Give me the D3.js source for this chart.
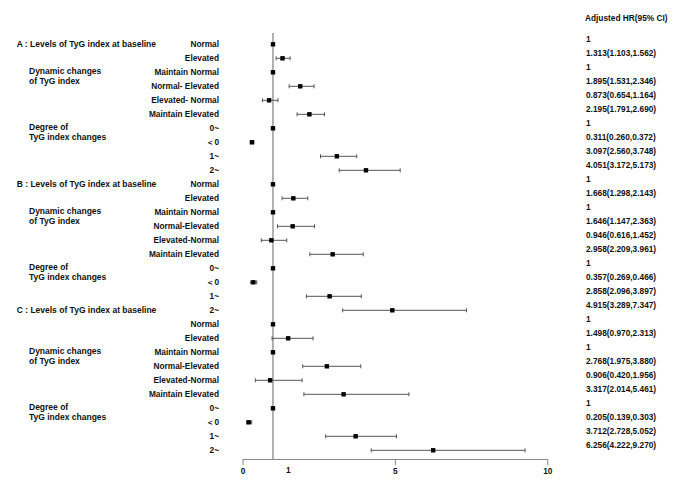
<!DOCTYPE html>
<html>
<head>
<meta charset="utf-8">
<script src="https://cdn.jsdelivr.net/npm/d3@7"></script>
<style>
  body { margin: 0; background: #fff; }
  text { font-family: "Liberation Sans", Arial, sans-serif; font-weight: bold; fill: #111; }
</style>
</head>
<body>
<svg id="forest" width="685" height="489"></svg>
<script>
// panel headers and row labels
var panelHeaders = ["A : Levels of TyG index at baseline", "B : Levels of TyG index at baseline", "C : Levels of TyG index at baseline"]
var rowsA = ["Normal", "Elevated", "Maintain Normal", "Normal- Elevated", "Elevated- Normal", "Maintain Elevated", "0~", "\uFF1C0", "1~", "2~"]
var rowsBC = ["Normal", "Elevated", "Maintain Normal", "Normal-Elevated", "Elevated-Normal", "Maintain Elevated", "0~", "\uFF1C0", "1~", "2~"]
var subLabels = [["Dynamic changes", "of TyG index"], ["Degree of", "TyG index changes"]]

// adjusted HR and 95% CI
var hrA = [1, 1.313, 1, 1.895, 0.873, 2.195, 1, 0.311, 3.097, 4.051]
var lowA = [1, 1.103, 1, 1.531, 0.654, 1.791, 1, 0.260, 2.560, 3.172]
var highA = [1, 1.562, 1, 2.346, 1.164, 2.690, 1, 0.372, 3.748, 5.173]

var hrB = [1, 1.668, 1, 1.646, 0.946, 2.958, 1, 0.357, 2.858, 4.915]
var lowB = [1, 1.298, 1, 1.147, 0.616, 2.209, 1, 0.269, 2.096, 3.289]
var highB = [1, 2.143, 1, 2.363, 1.452, 3.961, 1, 0.466, 3.897, 7.347]

var hrC = [1, 1.498, 1, 2.768, 0.906, 3.317, 1, 0.205, 3.712, 6.256]
var lowC = [1, 0.970, 1, 1.975, 0.420, 2.014, 1, 0.139, 2.728, 4.222]
var highC = [1, 2.313, 1, 3.880, 1.956, 5.461, 1, 0.303, 5.052, 9.270]

var xTicks = [0, 5, 10]

var dd = { width: 685, height: 489, axisY: 459, font: "8.3px" }

var svg = d3.select("#forest")

var panels = [
    { labels: rowsA, hr: hrA, low: lowA, high: highA },
    { labels: rowsBC, hr: hrB, low: lowB, high: highB },
    { labels: rowsBC, hr: hrC, low: lowC, high: highC }
]

var rows = []
panels.forEach(function(p, pi) {
    p.labels.forEach(function(lab, i) {
        rows.push({ panel: pi, idx: i, row: pi * 10 + i, label: lab, hr: p.hr[i], low: p.low[i], high: p.high[i] })
    })
})

var xScale = d3.scaleLinear().domain([0, 10]).range([242.5, 547.3])
var yScale = d3.scalePoint().domain(d3.range(30)).range([44.3, 450.3])

var fmt = d3.format(".3f")

// reference line at HR = 1
svg.append("line")
    .attr("x1", xScale(1)).attr("x2", xScale(1))
    .attr("y1", 33).attr("y2", dd.axisY)
    .attr("stroke", "#666").attr("stroke-width", 1)

// x axis
var xAxisGen = d3.axisBottom(xScale).tickValues(xTicks).tickSize(6).tickSizeOuter(0)
var xAxis = svg.append("g")
    .attr("transform", "translate(0," + dd.axisY + ")")
    .call(xAxisGen)
xAxis.select(".domain").attr("stroke", "#888")
xAxis.selectAll(".tick line").attr("stroke", "#888")
xAxis.selectAll("text").style("font-size", dd.font).style("font-family", "Liberation Sans, Arial, sans-serif").style("font-weight", "bold").attr("fill", "#111")

svg.append("text")
    .attr("x", xScale(1.5)).attr("y", 473)
    .attr("text-anchor", "middle").style("font-size", dd.font)
    .text("1")

// headers
svg.selectAll(".hdr")
    .data(panelHeaders)
    .enter().append("text")
    .attr("class", "hdr")
    .attr("x", 16.7)
    .attr("y", function(d, i) { return yScale(i == 2 ? 19 : i * 10) })
    .attr("dy", "0.35em")
    .style("font-size", "8.5px")
    .text(function(d) { return d })

// sub labels
panels.forEach(function(p, pi) {
    subLabels.forEach(function(lines, si) {
        var base = yScale(pi * 10 + (si == 0 ? 2 : 6))
        lines.forEach(function(t, li) {
            svg.append("text")
                .attr("x", 29)
                .attr("y", base - 1.5 + li * 10)
                .attr("dy", "0.35em")
                .style("font-size", "8.5px")
                .text(t)
        })
    })
})

// row labels
svg.selectAll(".rowlab")
    .data(rows)
    .enter().append("text")
    .attr("class", "rowlab")
    .attr("x", 219)
    .attr("y", function(d) { return yScale(d.row) })
    .attr("dy", "0.35em")
    .attr("text-anchor", "end")
    .style("font-size", dd.font)
    .text(function(d) { return d.label })

// CI lines
var ci = svg.selectAll(".ci")
    .data(rows.filter(function(d) { return d.hr != 1 }))
    .enter().append("g").attr("class", "ci")
ci.append("line")
    .attr("x1", function(d) { return xScale(d.low) })
    .attr("x2", function(d) { return xScale(d.high) })
    .attr("y1", function(d) { return yScale(d.row) })
    .attr("y2", function(d) { return yScale(d.row) })
    .attr("stroke", "#555").attr("stroke-width", 1)
ci.selectAll(".cap")
    .data(function(d) { return [{ v: d.low, row: d.row }, { v: d.high, row: d.row }] })
    .enter().append("line")
    .attr("x1", function(d) { return xScale(d.v) })
    .attr("x2", function(d) { return xScale(d.v) })
    .attr("y1", function(d) { return yScale(d.row) - 2 })
    .attr("y2", function(d) { return yScale(d.row) + 2 })
    .attr("stroke", "#555").attr("stroke-width", 1)

// point estimates
svg.selectAll(".pt")
    .data(rows)
    .enter().append("rect")
    .attr("class", "pt")
    .attr("x", function(d) { return xScale(d.hr) - 2.2 })
    .attr("y", function(d) { return yScale(d.row) - 2.2 })
    .attr("width", 4.4).attr("height", 4.4)
    .attr("fill", "#000")

// right column
svg.append("text")
    .attr("x", 585).attr("y", 18)
    .attr("dy", "0.35em")
    .style("font-size", dd.font)
    .text("Adjusted HR(95% CI)")

svg.selectAll(".hrtxt")
    .data(rows)
    .enter().append("text")
    .attr("class", "hrtxt")
    .attr("x", 586)
    .attr("y", function(d) { return yScale(d.row) - 5 })
    .attr("dy", "0.35em")
    .style("font-size", dd.font)
    .text(function(d) { return d.hr == 1 ? "1" : fmt(d.hr) + "(" + fmt(d.low) + "," + fmt(d.high) + ")" })
</script>
</body>
</html>
